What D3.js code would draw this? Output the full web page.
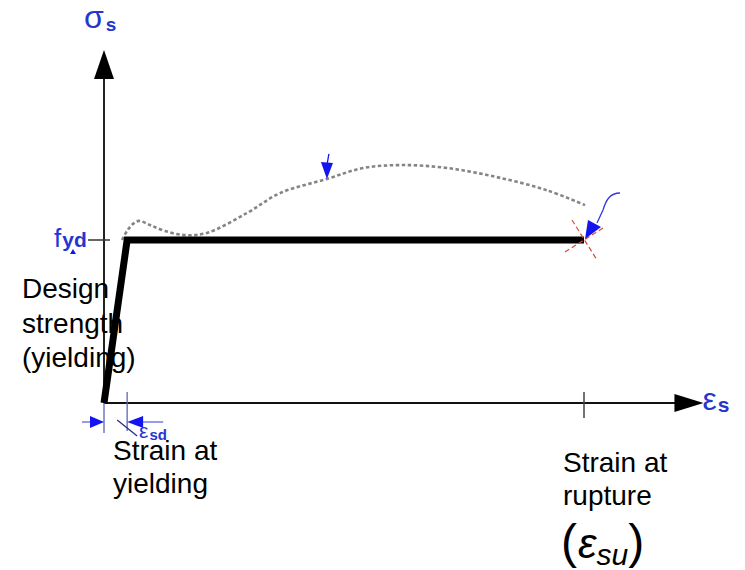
<!DOCTYPE html>
<html>
<head>
<meta charset="utf-8">
<script src="https://cdn.jsdelivr.net/npm/d3@7"></script>
<style>
  html, body { margin: 0; padding: 0; background: #fff; }
  svg { display: block; }
  text { font-family: "Liberation Sans", Arial, sans-serif; }
</style>
</head>
<body>
<svg id="chart" width="745" height="570"></svg>
<script>
// Design stress-strain diagram of reinforcing steel (strain in ‰, stress in MPa)
const fyd = 435;          // design yield strength
const epsSd = 2.17;       // strain at yielding
const epsSu = 45;         // strain at rupture

// Bilinear design curve
const designStrain = [0, epsSd, epsSu];
const designStress = [0, fyd, fyd];

// Actual (characteristic) curve with yield plateau and hardening
const realStrain = [1.69, 2.16, 2.72, 3.28, 4.31, 5.72, 7.59, 9.66, 13.4, 16.5, 20.9, 24.3, 28.0, 32.2, 36.8, 41.5, 45.1];
const realStress = [435, 459, 478, 486, 475, 459, 448, 454, 507, 560, 598, 627, 635, 627, 603, 568, 528];

// Axis extents and tick positions
const strainMax = 56.2;
const stressMax = 942;
const strainTicks = [epsSd, epsSu];
const stressTicks = [fyd];

const svg = d3.select("#chart");
const x = d3.scaleLinear().domain([0, epsSu]).range([104, 584]);
const y = d3.scaleLinear().domain([0, fyd]).range([403, 240]);

const blueText = "#2536cf";
const blueMark = "#1414f0";

// ---- axes ----
svg.append("line")
  .attr("x1", x(0)).attr("y1", y(0))
  .attr("x2", x(0)).attr("y2", y(stressMax) + 26)
  .attr("stroke", "#222").attr("stroke-width", 2);
svg.append("path")
  .attr("d", `M${x(0)},${y(stressMax)} L${x(0) - 10},${y(stressMax) + 29} L${x(0) + 10},${y(stressMax) + 29} Z`)
  .attr("fill", "#000");

svg.append("line")
  .attr("x1", x(0)).attr("y1", y(0))
  .attr("x2", x(strainMax) - 26).attr("y2", y(0))
  .attr("stroke", "#111").attr("stroke-width", 2);
svg.append("path")
  .attr("d", `M${x(strainMax)},${y(0)} L${x(strainMax) - 29},${y(0) - 9} L${x(strainMax) - 29},${y(0) + 9} Z`)
  .attr("fill", "#000");

// stress tick
svg.selectAll(".ytick").data(stressTicks).join("line")
  .attr("x1", x(0) - 16).attr("x2", x(0) + 6)
  .attr("y1", d => y(d)).attr("y2", d => y(d))
  .attr("stroke", "#333").attr("stroke-width", 1.5);

// strain at rupture tick (crosses the axis)
svg.append("line")
  .attr("x1", x(epsSu)).attr("x2", x(epsSu))
  .attr("y1", y(0) - 11).attr("y2", y(0) + 15)
  .attr("stroke", "#444").attr("stroke-width", 1.5);

// ---- actual curve (dotted grey) ----
const realPts = realStrain.map((s, i) => [s, realStress[i]]);
svg.append("path")
  .datum(realPts)
  .attr("d", d3.line().x(d => x(d[0])).y(d => y(d[1])).curve(d3.curveCatmullRom.alpha(0.5)))
  .attr("fill", "none")
  .attr("stroke", "#858585")
  .attr("stroke-width", 2.6)
  .attr("stroke-dasharray", "3.5,2.5");

// ---- design curve (thick black) ----
const designPts = designStrain.map((s, i) => [s, designStress[i]]);
svg.append("path")
  .datum(designPts)
  .attr("d", d3.line().x(d => x(d[0])).y(d => y(d[1])))
  .attr("fill", "none")
  .attr("stroke", "#000")
  .attr("stroke-width", 7)
  .attr("stroke-linejoin", "miter");

// ---- rupture marker: dashed red cross ----
const rx = x(epsSu), ry = y(fyd);
svg.append("line")
  .attr("x1", rx - 12).attr("y1", ry - 20).attr("x2", rx + 13).attr("y2", ry + 20)
  .attr("stroke", "#cf4d3b").attr("stroke-width", 1.2).attr("stroke-dasharray", "5,3");
svg.append("line")
  .attr("x1", rx + 19).attr("y1", ry - 12).attr("x2", rx - 19).attr("y2", ry + 12)
  .attr("stroke", "#cf4d3b").attr("stroke-width", 1.2).attr("stroke-dasharray", "5,3");

// rupture pointer (curved blue arrow)
svg.append("path")
  .attr("d", `M${rx + 36},${ry - 47} C${rx + 26},${ry - 47} ${rx + 22},${ry - 40} ${rx + 19},${ry - 30} L${rx + 13},${ry - 17}`)
  .attr("fill", "none").attr("stroke", "#3535e0").attr("stroke-width", 1.3);
svg.append("path")
  .attr("d", `M${rx + 1},${ry - 1} L${rx + 4},${ry - 20} L${rx + 17},${ry - 13} Z`)
  .attr("fill", blueMark);

// pointer on the hardening branch
const px = x(20.9), py = y(598);
svg.append("line")
  .attr("x1", px + 2).attr("y1", py - 25).attr("x2", px).attr("y2", py - 14)
  .attr("stroke", blueMark).attr("stroke-width", 1.3);
svg.append("path")
  .attr("d", `M${px},${py} L${px - 6},${py - 17} L${px + 6},${py - 16} Z`)
  .attr("fill", blueMark);

// ---- yield strain dimension below axis ----
const x0 = x(0), x1 = x(epsSd), dy = y(0) + 19;
svg.append("line")
  .attr("x1", x0).attr("x2", x0).attr("y1", y(0)).attr("y2", y(0) + 30)
  .attr("stroke", "#5a66b8").attr("stroke-width", 1.3);
svg.append("line")
  .attr("x1", x1).attr("x2", x1).attr("y1", y(0) - 11).attr("y2", y(0) + 28)
  .attr("stroke", "#5a66b8").attr("stroke-width", 1.3);
svg.append("line")
  .attr("x1", x0 - 22).attr("x2", x0 - 10).attr("y1", dy).attr("y2", dy)
  .attr("stroke", "#5a66e0").attr("stroke-width", 1.3);
svg.append("path")
  .attr("d", `M${x0},${dy} L${x0 - 14},${dy - 6} L${x0 - 14},${dy + 6} Z`)
  .attr("fill", blueMark);
svg.append("line")
  .attr("x1", x1 + 12).attr("x2", x1 + 36).attr("y1", dy).attr("y2", dy)
  .attr("stroke", "#5a66e0").attr("stroke-width", 1.3);
svg.append("path")
  .attr("d", `M${x1},${dy} L${x1 + 16},${dy - 6} L${x1 + 16},${dy + 6} Z`)
  .attr("fill", blueMark);
svg.append("line")
  .attr("x1", x1 - 10).attr("y1", dy - 2).attr("x2", x1 + 10).attr("y2", dy + 14)
  .attr("stroke", "#2a2f80").attr("stroke-width", 1.3);

// ---- symbol labels ----
const sig = svg.append("text").attr("x", 84).attr("y", 28).attr("fill", blueText);
sig.append("tspan").attr("font-size", 32).text("σ");
sig.append("tspan").attr("font-size", 19).attr("font-weight", "bold").attr("dx", 2).attr("dy", 3).text("s");

const epsS = svg.append("text").attr("x", x(strainMax) - 1).attr("y", y(0) + 7).attr("fill", blueText);
epsS.append("tspan").attr("font-size", 32).text("ε");
epsS.append("tspan").attr("font-size", 21).attr("font-weight", "bold").attr("dx", 1).attr("dy", 2).text("s");

const fl = svg.append("text").attr("x", 54).attr("y", y(fyd) + 7).attr("fill", blueText);
fl.append("tspan").attr("font-size", 26).text("f");
fl.append("tspan").attr("font-size", 21).attr("font-weight", "bold").attr("dx", 1).text("yd");
svg.append("path")
  .attr("d", `M73,${y(fyd) + 9} L70,${y(fyd) + 14} L76,${y(fyd) + 14} Z`)
  .attr("fill", blueMark);

const esd = svg.append("text").attr("x", 139).attr("y", 438).attr("fill", blueText);
esd.append("tspan").attr("font-size", 21).text("ε");
esd.append("tspan").attr("font-size", 15).attr("font-weight", "bold").attr("dx", 1).attr("dy", 2).text("sd");

// ---- explanatory text ----
const txt = (lines, xx, y0, step) => {
  lines.forEach((t, i) => {
    svg.append("text").attr("x", xx).attr("y", y0 + i * step)
      .attr("font-size", 28).attr("fill", "#000").text(t);
  });
};
txt(["Design", "strength", "(yielding)"], 22, 298, 34.5);
txt(["Strain at", "yielding"], 113, 460, 33);
txt(["Strain at", "rupture"], 563, 472, 33);

// (ε_su) in math style
const g = svg.append("text").attr("x", 561).attr("y", 558)
  .attr("font-family", "'DejaVu Serif', 'Liberation Serif', serif").attr("fill", "#000");
g.append("tspan").attr("font-size", 48).text("(");
g.append("tspan").attr("font-size", 42).attr("font-style", "italic").attr("dx", 1).text("ε");
g.append("tspan").attr("font-size", 30).attr("font-style", "italic").attr("dy", 7).text("su");
g.append("tspan").attr("font-size", 48).attr("dy", -7).text(")");
</script>
</body>
</html>
